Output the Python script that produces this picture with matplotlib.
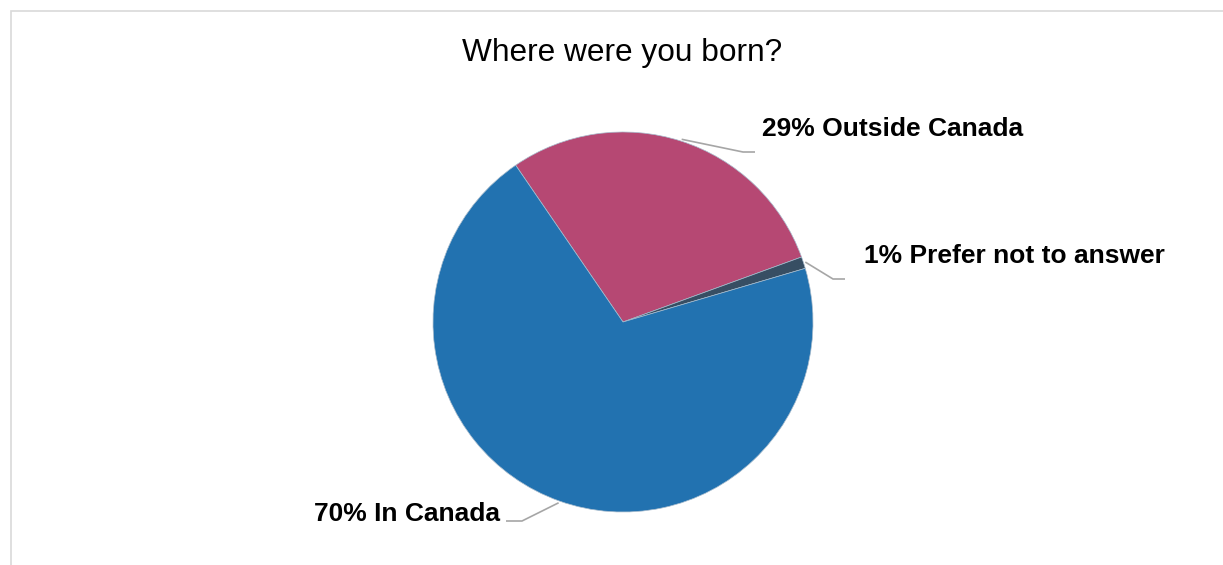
import numpy as np
import matplotlib.pyplot as plt
from matplotlib.patches import Rectangle

plt.rcParams["font.family"] = ["Liberation Sans", "DejaVu Sans"]

# survey answers
labels = ["Outside Canada", "Prefer not to answer", "In Canada"]
values = [29, 1, 70]
colors = ["#B64873", "#374E63", "#2272B0"]

W, H, R = 1223, 565, 190
cx, cy = 623, 322

fig = plt.figure(figsize=(W / 100, H / 100), dpi=100)
ax = fig.add_axes([0, 0, 1, 1])

start = 124.4
wedges, _ = ax.pie(values, colors=colors, startangle=start, counterclock=False,
                   radius=1, center=(0, 0), frame=True,
                   wedgeprops=dict(linewidth=0.5, edgecolor="#a8bccd"))
ax.set_xlim(-cx / R, (W - cx) / R)
ax.set_ylim(-(H - cy) / R, cy / R)
ax.set_aspect("equal")
ax.axis("off")

# label anchor (end of leader) and text placement, in pixels
label_pos = [
    ((755, 152), (762, 129), "left"),
    ((845, 279), (864, 256), "left"),
    ((506, 521), (500, 514), "right"),
]


def px(x, y):
    return (x - cx) / R, (cy - y) / R


for w, val, lab, (end, txt, ha) in zip(wedges, values, labels, label_pos):
    mid = np.deg2rad((w.theta1 + w.theta2) / 2)
    x0, y0 = 1.01 * np.cos(mid), 1.01 * np.sin(mid)
    ex, ey = px(*end)
    kx = ex - 12 / R if ha == "left" else ex + 16 / R
    ax.plot([x0, kx, ex], [y0, ey, ey], color="#A6A6A6", lw=1.2,
            solid_capstyle="butt")
    tx, ty = px(*txt)
    ax.text(tx, ty, f"{val}% {lab}", ha=ha, va="center", fontsize=19,
            fontweight="bold", color="black")

tx, ty = px(622, 53)
ax.text(tx, ty, "Where were you born?", ha="center", va="center",
        fontsize=22.8, color="black")

fig.patches.append(Rectangle((11 / W, -0.1), 1.2, (H - 11) / H + 0.1,
                             transform=fig.transFigure, fill=False,
                             edgecolor="#D9D9D9", lw=1.2))

fig.savefig("out.png", dpi=100)
